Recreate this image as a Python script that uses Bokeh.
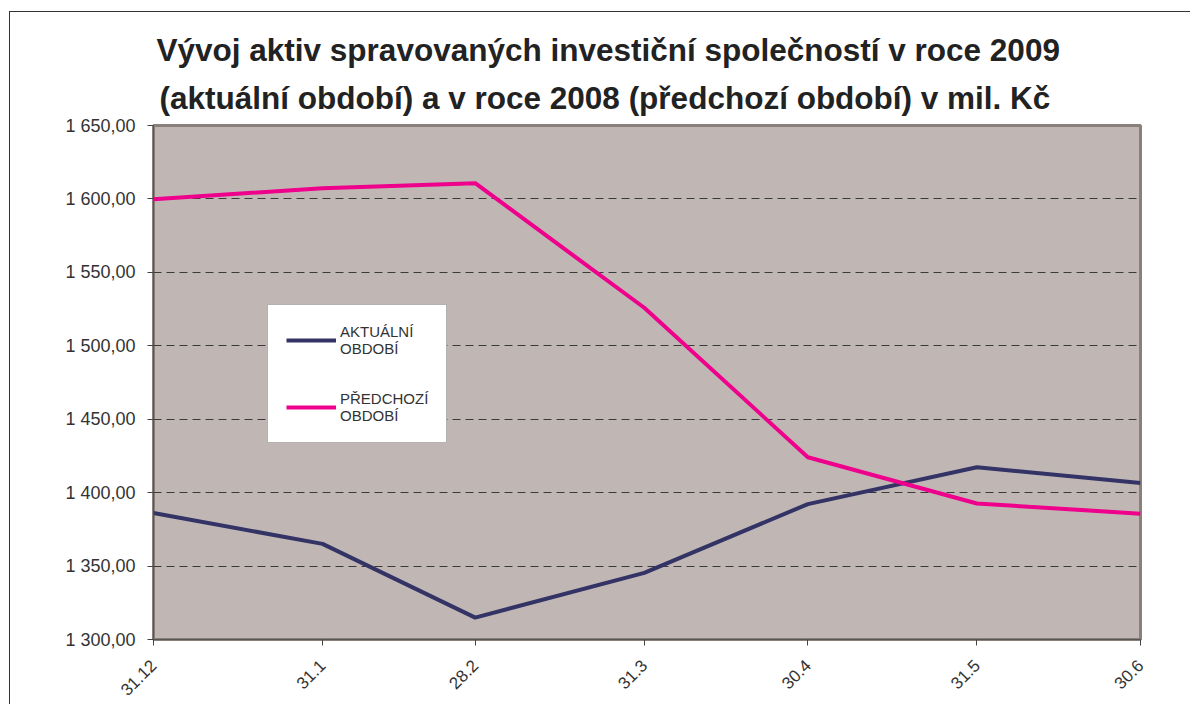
import math
import pandas as pd
from bokeh.plotting import figure
from bokeh.layouts import column
from bokeh.models import Range1d, FixedTicker, Title, Legend, LegendItem
from bokeh.embed import file_html
from bokeh.resources import INLINE

# ---- data ----
dates = ["2008-12-31", "2009-01-31", "2009-02-28", "2009-03-31",
         "2009-04-30", "2009-05-31", "2009-06-30"]
x_labels = ["31.12", "31.1", "28.2", "31.3", "30.4", "31.5", "30.6"]
aktualni = [1386.1, 1365.1, 1314.9, 1345.4, 1392.2, 1417.3, 1406.5]
predchozi = [1599.8, 1607.3, 1610.7, 1525.9, 1424.1, 1392.6, 1385.7]
y_ticks = [1300, 1350, 1400, 1450, 1500, 1550, 1600, 1650]
y_labels = ["1 300,00", "1 350,00", "1 400,00", "1 450,00",
            "1 500,00", "1 550,00", "1 600,00", "1 650,00"]
title_lines = ["Vývoj aktiv spravovaných investiční společností v roce 2009",
               "(aktuální období) a v roce 2008 (předchozí období) v mil. Kč"]
series_names = ["AKTUÁLNÍ\nOBDOBÍ", "PŘEDCHOZÍ\nOBDOBÍ"]

dt = pd.to_datetime(dates)
xs = [int((d - dt[0]).days) for d in dt]

FONT = "Liberation Sans"
TXT = "#333333"

p = figure(width=1180, height=692, output_backend="svg", toolbar_location=None,
           x_range=Range1d(xs[0], xs[-1]), y_range=Range1d(y_ticks[0], y_ticks[-1]),
           min_border_left=143, min_border_right=50, min_border_top=113,
           min_border_bottom=63, background_fill_color="#c0b7b4",
           border_fill_color="white", outline_line_color="#8b7f7c",
           outline_line_width=3)

r1 = p.line(xs, aktualni, line_color="#333366", line_width=4)
r2 = p.line(xs, predchozi, line_color="#ee008c", line_width=4)

# axes
p.xaxis.ticker = FixedTicker(ticks=xs)
p.xaxis.major_label_overrides = {x: l for x, l in zip(xs, x_labels)}
p.xaxis.major_label_orientation = math.pi / 4
p.yaxis.ticker = FixedTicker(ticks=y_ticks)
p.yaxis.major_label_overrides = {t: l for t, l in zip(y_ticks, y_labels)}
for ax in (p.xaxis[0], p.yaxis[0]):
    ax.axis_line_color = "#555555"
    ax.major_tick_line_color = "#444444"
    ax.major_tick_out = 6
    ax.major_tick_in = 0
    ax.minor_tick_line_color = None
    ax.major_label_text_font = FONT
    ax.major_label_text_color = TXT
ax_y = p.yaxis[0]
ax_y.major_label_text_font_size = "18px"
ax_y.major_label_standoff = 12
p.xaxis.major_label_text_font_size = "17px"
p.xaxis.major_label_standoff = 17

p.xgrid.grid_line_color = None
p.ygrid.grid_line_color = "#3a3a3a"
p.ygrid.grid_line_dash = "8 5"
p.ygrid.grid_line_width = 1

# title (second line added first: it sits nearest the plot)
for t, off, so, fs in [(title_lines[1], 6, 20, "31.5px"), (title_lines[0], 3, 0, "31.5px")]:
    p.add_layout(Title(text=t, align="left", offset=off,
                       text_font=FONT, text_font_size=fs,
                       text_font_style="bold", text_color="#222222",
                       standoff=so), "above")

legend = Legend(items=[LegendItem(label=series_names[0], renderers=[r1]),
                       LegendItem(label=series_names[1], renderers=[r2])],
                location=(114, 196), background_fill_color="white",
                background_fill_alpha=1.0, border_line_color="#666666",
                border_line_width=1, label_text_font=FONT,
                label_text_font_size="15px", label_text_color=TXT,
                glyph_width=50, glyph_height=20, label_standoff=4,
                spacing=33, padding=18, margin=0, label_width=82)
p.add_layout(legend)

layout = column(p, styles={"border-top": "1px solid #333333",
                           "border-left": "1px solid #333333",
                           "margin-left": "9px", "margin-top": "11px"})

open("out.html", "w").write(file_html(layout, INLINE))
